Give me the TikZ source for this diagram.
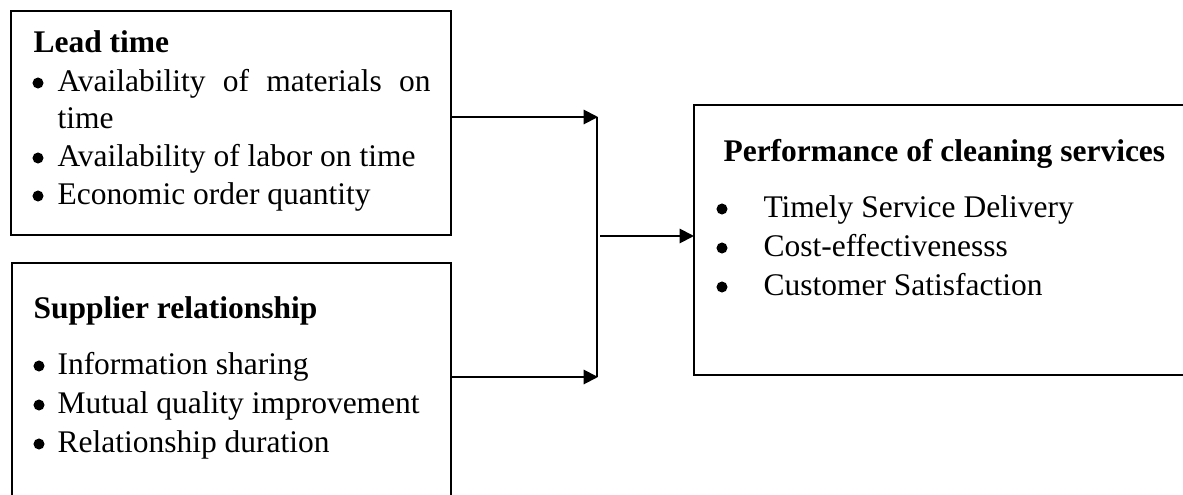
\documentclass[tikz,border=0pt]{standalone}
\usepackage{fontspec}
\setmainfont{Liberation Serif}
\usetikzlibrary{arrows.meta}
\begin{document}
\begin{tikzpicture}[x=0.381pt,y=-0.381pt,
  box/.style={draw, line width=0.75pt, inner sep=0pt, outer sep=0pt},
  txt/.style={anchor=base west, inner sep=0pt, font=\fontsize{12}{14}\selectfont},
  head/.style={anchor=base west, inner sep=0pt, font=\fontsize{12}{14}\selectfont\bfseries},
  dot/.style={circle, fill, inner sep=0pt, minimum size=4.2pt},
  conn/.style={line width=0.75pt},
  arr/.style={line width=0.75pt, -{Triangle[length=5.5pt,width=5.5pt]}}]
\useasboundingbox (0,0) rectangle (1183,495);
% boxes
\node[box, minimum width=167.64pt, minimum height=85.34pt] (lead) at (231,123) {};
\node[box, minimum width=167.26pt, minimum height=101.73pt] (supp) at (231.5,396.5) {};
\node[box, minimum width=196.6pt, minimum height=102.87pt] (perf) at (952,240) {};
% lead time text
\node[head] (ltH) at (33,52) {Lead time};
\node[dot] (ltB1) at (38,83) {};
\node[txt] (ltT1) at (57,91) {\makebox[142.1pt][s]{Availability of materials on}};
\node[txt] (ltT1b) at (57,128) {time};
\node[dot] (ltB2) at (38,158) {};
\node[txt] (ltT2) at (57,166) {Availability of labor on time};
\node[dot] (ltB3) at (38,196) {};
\node[txt] (ltT3) at (57,204) {Economic order quantity};
% supplier text
\node[head] (srH) at (33,318) {Supplier relationship};
\node[dot] (srB1) at (39,366) {};
\node[txt] (srT1) at (57,374) {Information sharing};
\node[dot] (srB2) at (39,405) {};
\node[txt] (srT2) at (57,413) {Mutual quality improvement};
\node[dot] (srB3) at (39,444) {};
\node[txt] (srT3) at (57,452) {Relationship duration};
% performance text
\node[head] (pfH) at (723,161) {Performance of cleaning services};
\node[dot] (pfB1) at (722,209) {};
\node[txt] (pfT1) at (763,217) {Timely Service Delivery};
\node[dot] (pfB2) at (722,248) {};
\node[txt] (pfT2) at (763,256) {Cost-effectivenesss};
\node[dot] (pfB3) at (722,287) {};
\node[txt] (pfT3) at (763,295) {Customer Satisfaction};
% connectors
\coordinate (j1) at (598,117);
\coordinate (j2) at (598,377);
\coordinate (jm) at (600,236);
\draw[arr] (lead.east |- j1) -- (j1);
\draw[arr] (supp.east |- j2) -- (j2);
\draw[conn] ([xshift=-0.4pt]j1) -- ([xshift=-0.4pt]j2);
\draw[arr] (jm) -- (perf.west |- jm);
\end{tikzpicture}
\end{document}
